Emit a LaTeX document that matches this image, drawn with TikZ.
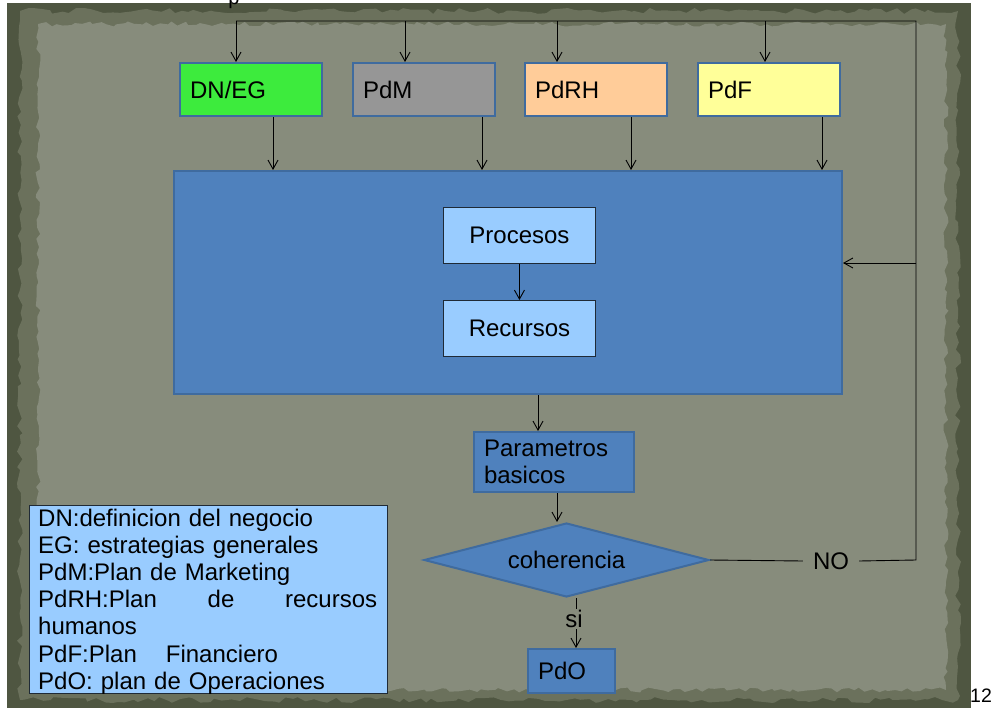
\documentclass[tikz,border=0pt]{standalone}
\usepackage{fontspec}
\setmainfont{Liberation Sans}
\usetikzlibrary{arrows.meta,shapes.geometric,decorations.pathmorphing,calc}

\definecolor{outerbg}{HTML}{4F5641}
\definecolor{midbg}{HTML}{6B715C}
\definecolor{paper}{HTML}{878C7C}
\definecolor{grn}{HTML}{3DEB3D}
\definecolor{gry}{HTML}{969696}
\definecolor{peach}{HTML}{FFCC99}
\definecolor{yel}{HTML}{FFFF99}
\definecolor{blu}{HTML}{4F81BD}
\definecolor{bluborder}{HTML}{3F6B9F}
\definecolor{lblu}{HTML}{99CCFF}
\definecolor{darkedge}{HTML}{1F2A36}

\begin{document}
\begin{tikzpicture}[x=1pt,y=-1pt,
  font=\fontsize{24}{27}\selectfont,
  arr/.style={-{Straight Barb[length=9pt,width=10pt]}, line width=0.9pt, black},
  ln/.style={line width=0.9pt, black},
  topbox/.style={draw=bluborder, line width=2.2pt, minimum height=53pt,
    text width=122pt, inner xsep=10pt, inner ysep=0pt, align=left, anchor=north west},
  inbox/.style={draw=darkedge, line width=0.9pt, fill=lblu, minimum width=152pt,
    minimum height=56pt, anchor=north west, inner sep=0pt},
  bluebox/.style={draw=bluborder, line width=2pt, fill=blu, anchor=north west,
    inner xsep=10pt, inner ysep=0pt, align=left},
  lbl/.style={inner sep=0pt}
]
\pgfmathsetseed{11}
\useasboundingbox (0,0) rectangle (995,708);

% background texture
\fill[outerbg] (7,3) rectangle (971,708);
\fill[midbg, decorate, decoration={random steps, segment length=7pt, amplitude=3pt}]
  (20,11) rectangle (958,700);
\fill[paper, decorate, decoration={random steps, segment length=6pt, amplitude=2.5pt}]
  (38,24) rectangle (946,690);

% cropped title letter
\node[anchor=base, lbl, font=\fontsize{20}{24}\selectfont] (ttl) at (234,5) {p};

% top boxes
\node[topbox, fill=grn] (dneg) at (179,62) {DN/EG};
\node[topbox, fill=gry] (pdm) at (352,62) {PdM};
\node[topbox, fill=peach] (pdrh) at (524,62) {PdRH};
\node[topbox, fill=yel] (pdf) at (697,62) {PdF};

% big box
\node[draw=bluborder, line width=2pt, fill=blu, minimum width=668pt,
  minimum height=223pt, anchor=north west] (big) at (173,170) {};
\node[inbox] (proc) at (443,207) {Procesos};
\node[inbox] (rec) at (443,300) {Recursos};

% parametros
\node[bluebox, text width=140pt, minimum height=60pt] (par) at (473,431)
  {Parametros\\basicos};

% diamond
\node[diamond, draw=bluborder, line width=2pt, fill=blu, aspect=3.85,
  minimum width=285pt, minimum height=74pt, inner sep=0pt] (coh) at (566.5,560)
  {coherencia};

% PdO
\node[bluebox, text width=67pt, minimum height=44pt] (pdo) at (527,648) {PdO};

% legend
\node[draw=darkedge, line width=0.8pt, fill=lblu, anchor=north west,
  minimum width=358pt, minimum height=187.5pt, inner sep=0pt] (leg) at (29,505) {};
\node[anchor=north west, inner sep=0pt, text width=339pt, align=left,
  font=\fontsize{24}{27.2}\selectfont] (legtxt) at (38,508.5)
  {DN:definicion del negocio\\
   EG: estrategias generales\\
   PdM:Plan de Marketing\\
   \makebox[339pt][l]{PdRH:Plan\hfill de\hfill recursos}\\
   humanos\\
   PdF:Plan\hspace{21pt} Financiero\\
   PdO: plan de Operaciones};

% labels
\node[inner xsep=10pt, inner ysep=0pt] (no) at (831,561) {NO};
\node[inner xsep=0pt, inner ysep=1pt] (si) at (574,619) {si};
\node[lbl, font=\fontsize{19.5}{22}\selectfont, anchor=base] (pg) at (981,702) {12};

% feedback loop
\coordinate (busL) at (236,21);
\coordinate (busR) at (916,21);
\coordinate (corner) at (916,560);
\draw[ln] (coh.east) -- (no.west);
\draw[ln] (no.east) -- (corner) -- (busR) -- (busL);
\draw[arr] (corner |- 0,263) -- (big.east |- 0,263);

% bus to top boxes
\draw[arr] (busL) -- (busL |- dneg.north);
\draw[arr] (405,21) -- (405,0 |- pdm.north);
\draw[arr] (557,21) -- (557,0 |- pdrh.north);
\draw[arr] (765,21) -- (765,0 |- pdf.north);

% top boxes to big box
\draw[arr] (273,0 |- dneg.south) -- (273,0 |- big.north);
\draw[arr] (482,0 |- pdm.south) -- (482,0 |- big.north);
\draw[arr] (631,0 |- pdrh.south) -- (631,0 |- big.north);
\draw[arr] (822,0 |- pdf.south) -- (822,0 |- big.north);

% inner flow
\draw[arr] (proc.south) -- (rec.north);
\draw[arr] (538,0 |- big.south) -- (538,0 |- par.north);
\draw[arr] (557,0 |- par.south) -- (557,0 |- coh.north);
\draw[ln] (576,598) -- (576,0 |- si.north);
\draw[arr] (576,0 |- si.south) -- (576,0 |- pdo.north);
\end{tikzpicture}
\end{document}
